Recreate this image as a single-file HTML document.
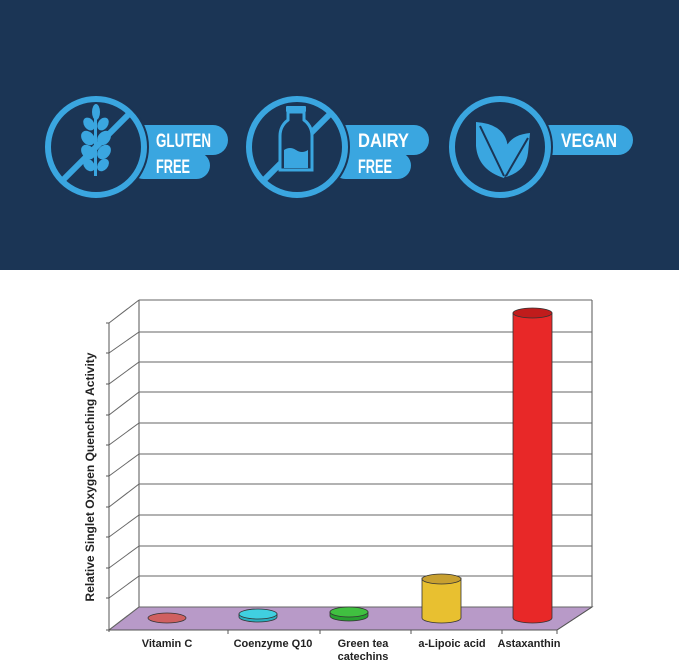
<!DOCTYPE html>
<html><head><meta charset="utf-8"><style>
html,body{margin:0;padding:0;background:#fff;}
svg{display:block}
</style></head><body>
<svg width="679" height="663" viewBox="0 0 679 663" xmlns="http://www.w3.org/2000/svg">
<rect x="0" y="0" width="679" height="270" fill="#1b3555"/>
<g fill="#3aa6e0" font-family="Liberation Sans, sans-serif" font-weight="bold">
  <rect x="130" y="125" width="98" height="30" rx="15"/>
  <rect x="130" y="152" width="80" height="27" rx="13.5"/>
  <circle cx="96" cy="147" r="53" fill="#1b3555"/>
  <circle cx="96" cy="147" r="48" fill="none" stroke="#3aa6e0" stroke-width="6"/>
  <line x1="62" y1="181" x2="130" y2="113" stroke="#3aa6e0" stroke-width="6"/>
  <g>
    <rect x="94" y="110" width="3" height="66"/>
    <ellipse cx="96" cy="112" rx="4" ry="8"/>
    <ellipse cx="89" cy="124" rx="5" ry="7" transform="rotate(-35 89 124)"/>
    <ellipse cx="103" cy="124" rx="5" ry="7" transform="rotate(35 103 124)"/>
    <ellipse cx="88" cy="138" rx="6" ry="8" transform="rotate(-40 88 138)"/>
    <ellipse cx="104" cy="138" rx="6" ry="8" transform="rotate(40 104 138)"/>
    <ellipse cx="88" cy="152" rx="6" ry="8" transform="rotate(-40 88 152)"/>
    <ellipse cx="104" cy="152" rx="6" ry="8" transform="rotate(40 104 152)"/>
    <ellipse cx="89" cy="165" rx="5" ry="7" transform="rotate(-40 89 165)"/>
    <ellipse cx="103" cy="165" rx="5" ry="7" transform="rotate(40 103 165)"/>
  </g>
  <g fill="#fff" font-size="19"><text x="156" y="147" textLength="55" lengthAdjust="spacingAndGlyphs">GLUTEN</text>
  <text x="156" y="173" textLength="34" lengthAdjust="spacingAndGlyphs">FREE</text></g>
  <rect x="332" y="125" width="97" height="30" rx="15"/>
  <rect x="332" y="152" width="79" height="27" rx="13.5"/>
  <circle cx="297" cy="147" r="53" fill="#1b3555"/>
  <circle cx="297" cy="147" r="48" fill="none" stroke="#3aa6e0" stroke-width="6"/>
  <line x1="263" y1="181" x2="331" y2="113" stroke="#3aa6e0" stroke-width="6"/>
  <rect x="286" y="106" width="20" height="6" rx="1"/>
  <path d="M288 112 h16 v8 q8 6 8 16 v34 h-32 v-34 q0 -10 8 -16z" fill="#1b3555" stroke="#3aa6e0" stroke-width="3"/>
  <path d="M284 150 q6 -4 12 0 t12 0 v18 h-24z"/>
  <g fill="#fff" font-size="19"><text x="358" y="147" textLength="51" lengthAdjust="spacingAndGlyphs">DAIRY</text>
  <text x="358" y="173" textLength="34" lengthAdjust="spacingAndGlyphs">FREE</text></g>
  <rect x="535" y="125" width="98" height="30" rx="15"/>
  <circle cx="500" cy="147" r="53" fill="#1b3555"/>
  <circle cx="500" cy="147" r="48" fill="none" stroke="#3aa6e0" stroke-width="6"/>
  <path d="M476 122 q30 2 32 26 q2 16 -4 30 q-26 -8 -28 -32z"/>
  <path d="M530 133 q-22 2 -26 20 q-2 12 2 24 q20 -6 22 -24z"/>
  <path d="M480 126 l24 50 M528 138 l-22 38" stroke="#1b3555" stroke-width="2" fill="none"/>
  <g fill="#fff" font-size="19"><text x="561" y="147" textLength="56" lengthAdjust="spacingAndGlyphs">VEGAN</text></g>
</g>

<g stroke="#555" stroke-width="1" fill="none">
  <polygon points="109,630 139,607 592,607 557,630" fill="#b89ac8" stroke="#666"/>
  <line x1="139" y1="300" x2="139" y2="607"/>
  <line x1="592" y1="300" x2="592" y2="607"/>
  <g stroke="#666">
  <line x1="139" y1="300" x2="592" y2="300"/>
  <line x1="139" y1="332" x2="592" y2="332"/>
  <line x1="139" y1="362" x2="592" y2="362"/>
  <line x1="139" y1="392" x2="592" y2="392"/>
  <line x1="139" y1="423" x2="592" y2="423"/>
  <line x1="139" y1="454" x2="592" y2="454"/>
  <line x1="139" y1="484" x2="592" y2="484"/>
  <line x1="139" y1="515" x2="592" y2="515"/>
  <line x1="139" y1="546" x2="592" y2="546"/>
  <line x1="139" y1="576" x2="592" y2="576"/>
  <line x1="109" y1="323" x2="139" y2="300"/>
  <line x1="109" y1="353" x2="139" y2="332"/>
  <line x1="109" y1="384" x2="139" y2="362"/>
  <line x1="109" y1="415" x2="139" y2="392"/>
  <line x1="109" y1="445" x2="139" y2="423"/>
  <line x1="109" y1="476" x2="139" y2="454"/>
  <line x1="109" y1="507" x2="139" y2="484"/>
  <line x1="109" y1="537" x2="139" y2="515"/>
  <line x1="109" y1="568" x2="139" y2="546"/>
  <line x1="109" y1="598" x2="139" y2="576"/>
  <line x1="109" y1="630" x2="139" y2="607"/>
  </g>
  <line x1="109" y1="323" x2="109" y2="632"/>
  <line x1="109" y1="630" x2="557" y2="630"/>
  <line x1="557" y1="630" x2="592" y2="607"/>
  <line x1="557" y1="630" x2="557" y2="634"/>
  <line x1="228" y1="630" x2="228" y2="634"/>
  <line x1="320" y1="630" x2="320" y2="634"/>
  <line x1="411" y1="630" x2="411" y2="634"/>
  <line x1="502" y1="630" x2="502" y2="634"/>
  <g stroke="#555">
  <line x1="106" y1="323" x2="109" y2="323"/><line x1="106" y1="353" x2="109" y2="353"/><line x1="106" y1="384" x2="109" y2="384"/><line x1="106" y1="415" x2="109" y2="415"/><line x1="106" y1="445" x2="109" y2="445"/><line x1="106" y1="476" x2="109" y2="476"/><line x1="106" y1="507" x2="109" y2="507"/><line x1="106" y1="537" x2="109" y2="537"/><line x1="106" y1="568" x2="109" y2="568"/><line x1="106" y1="598" x2="109" y2="598"/><line x1="106" y1="630" x2="109" y2="630"/>
  </g>
</g>
<g stroke="#333" stroke-width="0.8">
  <ellipse cx="167" cy="618" rx="19" ry="5" fill="#d06060"/>
  <path d="M239 614 v3 a19 5 0 0 0 38 0 v-3z" fill="#2ab0c0"/>
  <ellipse cx="258" cy="614" rx="19" ry="5" fill="#40d0e0"/>
  <path d="M330 612 v4 a19 5 0 0 0 38 0 v-4z" fill="#28a030"/>
  <ellipse cx="349" cy="612" rx="19" ry="5" fill="#40c040"/>
  <path d="M422 578 v40 a19.5 5 0 0 0 39 0 v-40z" fill="#e8c030"/>
  <ellipse cx="441.5" cy="579" rx="19.5" ry="5" fill="#c8a030"/>
  <path d="M513 313 v305 a19.5 5 0 0 0 39 0 v-305z" fill="#e82828"/>
  <ellipse cx="532.5" cy="313" rx="19.5" ry="5" fill="#c01c1c"/>
</g>
<g font-family="Liberation Sans, sans-serif" font-weight="bold" font-size="11" fill="#222" text-anchor="middle">
  <text x="167" y="647">Vitamin C</text>
  <text x="273" y="647">Coenzyme Q10</text>
  <text x="363" y="647">Green tea</text>
  <text x="363" y="660">catechins</text>
  <text x="452" y="647">a-Lipoic acid</text>
  <text x="529" y="647">Astaxanthin</text>
  <text transform="translate(94,477) rotate(-90)" font-size="12">Relative Singlet Oxygen Quenching Activity</text>
</g>
</svg>
</body></html>
